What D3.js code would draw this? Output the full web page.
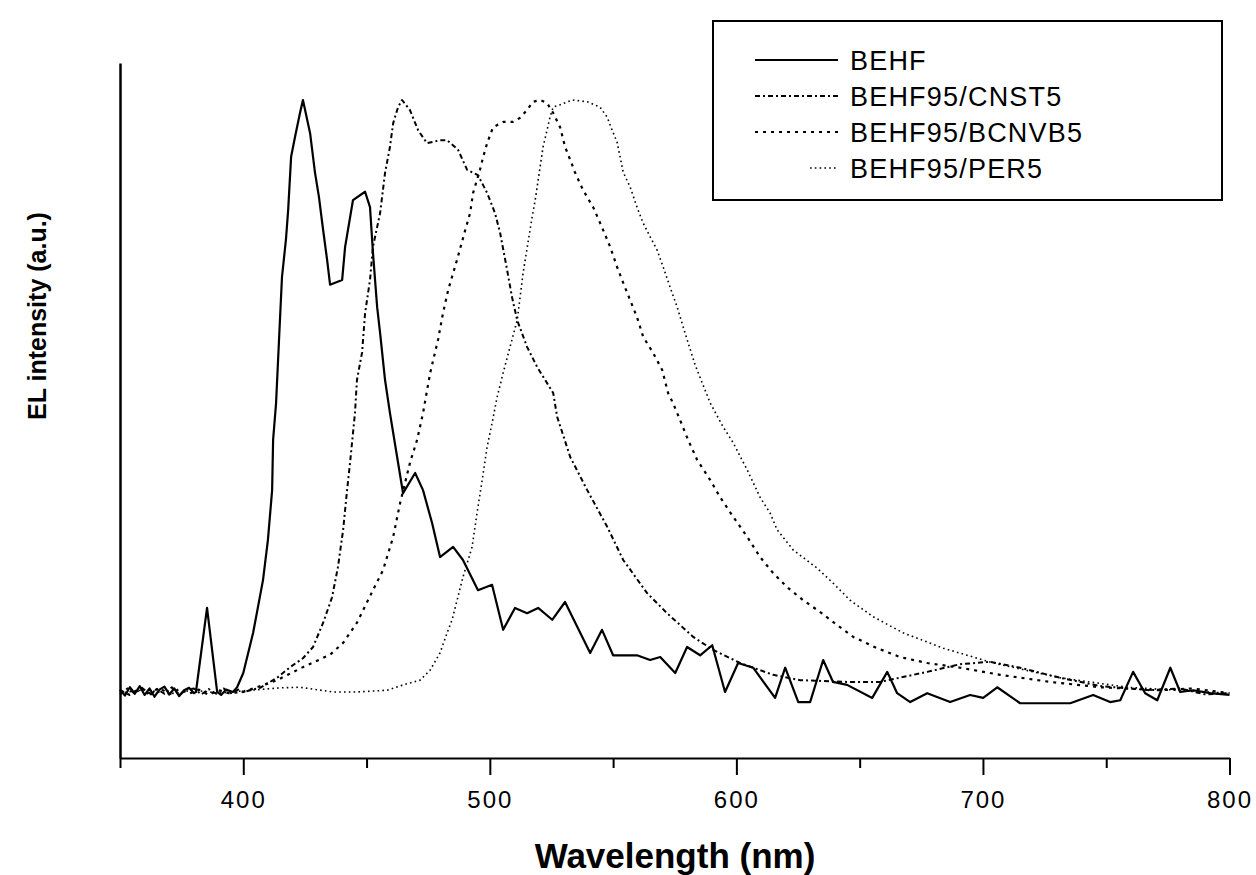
<!DOCTYPE html>
<html>
<head>
<meta charset="utf-8">
<script src="https://cdn.jsdelivr.net/npm/d3@7"></script>
<style>
  html, body { margin: 0; padding: 0; background: #fff; }
  svg { display: block; }
  .tick text { font-family: "Liberation Sans", Arial, sans-serif; }
</style>
</head>
<body>
<svg id="chart" width="1256" height="875"></svg>
<script>
// wavelength (nm), EL intensity (normalised)
const behf = [
  [350, 0.004], [352, -0.006], [354, 0.008], [356, -0.003], [358, 0.010], [360, -0.005],
  [362, 0.006], [364, -0.008], [366, 0.004], [368, 0.009], [370, -0.004], [372, 0.006],
  [374, -0.007], [376, 0.003], [378, 0.007], [380, -0.002], [380.8, 0], [385.3, 0.142],
  [389.4, 0], [391, -0.005], [393, 0.004], [395.8, 0], [397.5, 0.008], [400, 0.032],
  [404, 0.100], [408, 0.189], [410, 0.257], [411.7, 0.341], [412.1, 0.426], [413.3, 0.488],
  [414.5, 0.595], [415.7, 0.701], [417.3, 0.764], [418.2, 0.814], [419.4, 0.904], [421, 0.938],
  [423, 0.978], [424.2, 1.0], [427.1, 0.944], [429.1, 0.877], [430.7, 0.836], [432.4, 0.780],
  [434, 0.730], [435.2, 0.688], [440.1, 0.696], [441.3, 0.752], [444.5, 0.831], [449.4, 0.845],
  [451.4, 0.819], [452.6, 0.742], [454.3, 0.650], [455.5, 0.606], [457.5, 0.527], [459.5, 0.471],
  [462.4, 0.397], [464.8, 0.336], [469.7, 0.370], [472.9, 0.341], [476.6, 0.285], [479.8, 0.228],
  [485.1, 0.245], [489.1, 0.223], [495.2, 0.172], [500.9, 0.181], [505.4, 0.105], [510.2, 0.142],
  [515.1, 0.133], [519.6, 0.142], [525.3, 0.122], [530.5, 0.152], [540.7, 0.066], [545.5, 0.105],
  [550, 0.062], [559.7, 0.062], [565, 0.054], [569.1, 0.059], [575.2, 0.032], [580, 0.076],
  [585.3, 0.062], [590.2, 0.079], [595.4, 0], [600.7, 0.049], [606.8, 0.041], [615.7, -0.010],
  [619.8, 0.041], [625.1, -0.017], [629.9, -0.017], [635.2, 0.054], [639.2, 0.017], [644.9, 0.012],
  [655.1, -0.010], [661.2, 0.034], [665.2, -0.002], [670.5, -0.017], [677.4, -0.002], [686.7, -0.017],
  [694.8, -0.005], [700.1, -0.010], [705.8, 0.008], [715.1, -0.019], [735.4, -0.019], [744.7, -0.005],
  [751.6, -0.017], [755.7, -0.014], [760.9, 0.034], [765.8, -0.002], [770.7, -0.014], [776, 0.041],
  [780, 0], [785.3, 0.003], [792.2, -0.002], [800, -0.005]
];

const cnst5 = [
  [350, -0.004], [353, 0.006], [356, -0.002], [359, 0.007], [362, -0.006], [365, 0.005],
  [368, -0.003], [371, 0.008], [374, -0.005], [377, 0.004], [380, 0.006], [383, -0.004],
  [386, 0.005], [389, -0.003], [392, 0.006], [395, -0.002], [398, 0.004], [400, 0],
  [406.8, 0.007], [413.7, 0.024], [419, 0.042], [424.2, 0.057], [428.3, 0.076], [432.4, 0.117],
  [436, 0.160], [438.4, 0.211], [440.5, 0.274], [442.1, 0.341], [443.3, 0.387], [445.3, 0.471],
  [446.1, 0.527], [448.2, 0.574], [449.4, 0.640], [451.4, 0.696], [452.6, 0.752], [455.5, 0.809],
  [457.5, 0.877], [459.5, 0.921], [460.8, 0.961], [462.8, 0.988], [464.4, 1.0], [467.6, 0.983],
  [470.9, 0.949], [474.5, 0.927], [479.8, 0.932], [482.7, 0.932], [487.1, 0.916], [490.8, 0.882],
  [495.2, 0.873], [498.9, 0.843], [502.1, 0.809], [504.2, 0.775], [507, 0.713], [509, 0.667],
  [511.1, 0.628], [515.1, 0.583], [519.2, 0.549], [525.7, 0.505], [527.3, 0.465], [532.6, 0.397],
  [539.5, 0.341], [547.6, 0.279], [554.1, 0.223], [563.8, 0.167], [571.9, 0.133], [582.5, 0.093],
  [590.6, 0.071], [601.5, 0.049], [614.9, 0.029], [625.9, 0.020], [644.9, 0.017], [658.3, 0.017],
  [677.4, 0.034], [690.8, 0.047], [702.9, 0.051], [715.1, 0.041], [731.3, 0.024], [747.6, 0.010],
  [767.8, 0.003], [780, 0.006], [790, -0.004], [800, -0.002]
];

const bcnvb5 = [
  [350, 0.003], [354, -0.005], [358, 0.006], [362, -0.002], [366, 0.007], [370, -0.004],
  [374, 0.005], [378, -0.003], [382, 0.004], [386, -0.005], [390, 0.003], [394, -0.002],
  [400, 0], [413.7, 0.020], [424.2, 0.042], [435.2, 0.063], [440.5, 0.083], [446.1, 0.117],
  [452.6, 0.172], [456.7, 0.206], [460.8, 0.262], [463.6, 0.319], [467.6, 0.387], [470.5, 0.426],
  [472.9, 0.471], [475.8, 0.539], [479, 0.595], [481, 0.640], [483.1, 0.679], [486.7, 0.730],
  [490, 0.780], [492, 0.809], [493.2, 0.843], [496, 0.882], [497.3, 0.904], [498.9, 0.927],
  [501.3, 0.954], [505.4, 0.963], [509.4, 0.963], [512.3, 0.970], [515.1, 0.983], [517.5, 0.997],
  [520.4, 1.0], [523.2, 0.995], [525.7, 0.978], [528.5, 0.954], [530.5, 0.921], [532.6, 0.899],
  [534.6, 0.877], [537.8, 0.848], [541.9, 0.819], [545.5, 0.785], [548.8, 0.752], [551.6, 0.718],
  [554.1, 0.691], [556.9, 0.662], [559.7, 0.633], [562.2, 0.600], [566.2, 0.573], [569.9, 0.544],
  [572.3, 0.505], [574.3, 0.488], [577.2, 0.459], [580.4, 0.426], [584.1, 0.392], [589.4, 0.358],
  [593.4, 0.329], [598.7, 0.296], [604.4, 0.262], [609.6, 0.228], [614.9, 0.201], [620.6, 0.177],
  [627.1, 0.155], [634, 0.135], [640.9, 0.113], [647.4, 0.093], [657.1, 0.074], [666.4, 0.059],
  [677.4, 0.049], [690.8, 0.041], [707, 0.029], [727.3, 0.017], [747.6, 0.008], [771.9, 0.003],
  [785, 0.006], [800, -0.002]
];

const per5 = [
  [350, -0.002], [360, 0.004], [370, -0.003], [380, 0.003], [390, -0.002], [400, 0.002],
  [414.9, 0.007], [423, 0.008], [436.4, 0], [446.1, 0], [458.3, 0.003], [464.8, 0.012],
  [471.7, 0.020], [475.8, 0.037], [479.8, 0.066], [482.7, 0.100], [484.7, 0.122], [489.1, 0.194],
  [492.8, 0.245], [494.8, 0.302], [496.9, 0.358], [498.9, 0.414], [500.9, 0.454], [502.9, 0.497],
  [505.4, 0.539], [508.2, 0.583], [511.1, 0.628], [513.5, 0.708], [517.1, 0.801], [518.4, 0.831],
  [520.4, 0.887], [521.6, 0.921], [523.2, 0.949], [524.4, 0.971], [525.7, 0.988], [528.5, 0.992],
  [533.4, 1.0], [539.5, 0.997], [544.7, 0.988], [547.6, 0.971], [549.6, 0.949], [551.6, 0.929],
  [554.1, 0.878], [556.9, 0.853], [559.7, 0.819], [562.2, 0.792], [565, 0.769], [567.8, 0.747],
  [570.3, 0.718], [573.1, 0.684], [576, 0.650], [579.2, 0.606], [583.3, 0.552], [589.4, 0.488],
  [594.6, 0.448], [598.7, 0.421], [604.4, 0.375], [609.6, 0.329], [613.7, 0.302], [616.5, 0.274],
  [623, 0.240], [632.8, 0.209], [639.2, 0.184], [646.1, 0.155], [655.5, 0.127], [667.6, 0.100],
  [683.9, 0.074], [704.2, 0.049], [731.3, 0.024], [758.5, 0.008], [799.1, -0.002]
];

const seriesNames = ["BEHF", "BEHF95/CNST5", "BEHF95/BCNVB5", "BEHF95/PER5"];
const seriesData = [behf, cnst5, bcnvb5, per5];
const majorTicks = [400, 500, 600, 700, 800];
const minorTicks = [350, 450, 550, 650, 750];

const lineStyles = [
  { width: 2.2, dash: null },
  { width: 2, dash: "5,3,2,3" },
  { width: 2.2, dash: "3,5" },
  { width: 1.6, dash: "1.6,3.2" },
];

const svg = d3.select("#chart");
const font = '"Liberation Sans", Arial, sans-serif';

const x = d3.scaleLinear().domain([350, 800]).range([120, 1229.5]);
const y = d3.scaleLinear().domain([-0.1115, 1.0625]).range([758, 63]);

// minor ticks first, then the labelled major axis
svg.append("g")
  .attr("transform", `translate(0,${y.range()[0]})`)
  .call(d3.axisBottom(x).tickValues(minorTicks).tickSize(10).tickSizeOuter(0).tickFormat(""))
  .call((g) => g.select(".domain").remove())
  .call((g) => g.selectAll("line").attr("stroke-width", 2));

const xAxis = svg.append("g")
  .attr("transform", `translate(0,${y.range()[0]})`)
  .call(d3.axisBottom(x).tickValues(majorTicks).tickSize(17).tickSizeOuter(0).tickPadding(16));
xAxis.select(".domain").attr("stroke-width", 2);
xAxis.selectAll("line").attr("stroke-width", 2);
xAxis.selectAll("text")
  .attr("font-size", 24)
  .attr("letter-spacing", 2)
  .attr("fill", "#000");

const yAxis = svg.append("g")
  .attr("transform", `translate(${x.range()[0]},0)`)
  .call(d3.axisLeft(y).tickValues([]).tickSizeOuter(0));
yAxis.select(".domain").attr("stroke-width", 2.5);

// curves
const line = d3.line().x((d) => x(d[0])).y((d) => y(d[1]));
seriesData.forEach((data, i) => {
  svg.append("path")
    .datum(data)
    .attr("fill", "none")
    .attr("stroke", "#000")
    .attr("stroke-width", lineStyles[i].width)
    .attr("stroke-linejoin", "round")
    .attr("stroke-dasharray", lineStyles[i].dash)
    .attr("d", line);
});

// axis titles
svg.append("text")
  .attr("x", 675)
  .attr("y", 868)
  .attr("text-anchor", "middle")
  .attr("font-family", font)
  .attr("font-weight", "bold")
  .attr("font-size", 35)
  .text("Wavelength (nm)");

svg.append("text")
  .attr("transform", "translate(46,316) rotate(-90)")
  .attr("text-anchor", "middle")
  .attr("font-family", font)
  .attr("font-weight", "bold")
  .attr("font-size", 25)
  .text("EL intensity (a.u.)");

// legend
const legend = svg.append("g");
legend.append("rect")
  .attr("x", 713)
  .attr("y", 21)
  .attr("width", 509)
  .attr("height", 179)
  .attr("fill", "#fff")
  .attr("stroke", "#000")
  .attr("stroke-width", 2);

const rowY = [60, 96, 132, 168];
const sampleStart = [755, 755, 755, 810];
seriesNames.forEach((name, i) => {
  legend.append("line")
    .attr("x1", sampleStart[i])
    .attr("x2", 838)
    .attr("y1", rowY[i])
    .attr("y2", rowY[i])
    .attr("stroke", "#000")
    .attr("stroke-width", lineStyles[i].width)
    .attr("stroke-dasharray", lineStyles[i].dash);
  legend.append("text")
    .attr("x", 850)
    .attr("y", rowY[i] + 10)
    .attr("font-family", font)
    .attr("font-size", 27)
    .attr("letter-spacing", 1.2)
    .text(name);
});
</script>
</body>
</html>
